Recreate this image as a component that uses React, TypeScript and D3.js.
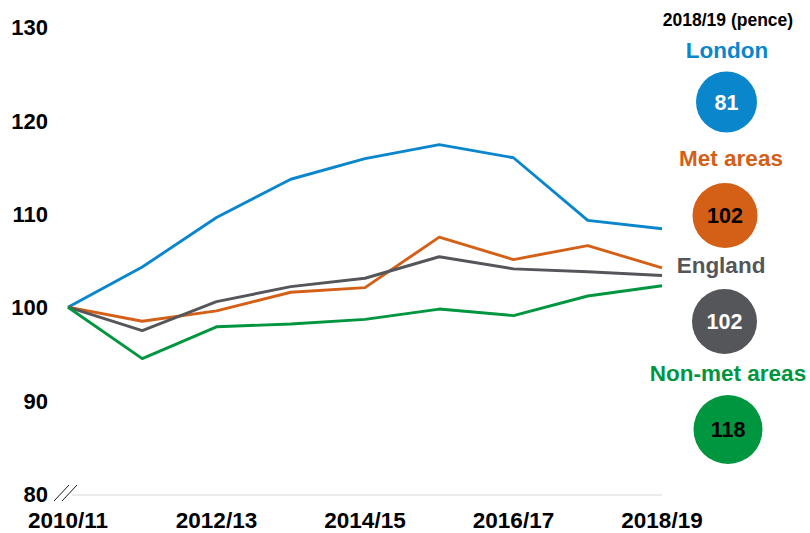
import React from "react";
import * as d3 from "d3";

const years = ["2010/11","2011/12","2012/13","2013/14","2014/15","2015/16","2016/17","2017/18","2018/19"];
const xTickLabels = ["2010/11","2012/13","2014/15","2016/17","2018/19"];
const yTicks = [80, 90, 100, 110, 120, 130];

const london = [100, 104.3, 109.6, 113.7, 115.9, 117.4, 116.0, 109.3, 108.4];
const metAreas = [100, 98.5, 99.6, 101.6, 102.1, 107.5, 105.1, 106.6, 104.2];
const england = [100, 97.5, 100.6, 102.2, 103.1, 105.4, 104.1, 103.8, 103.4];
const nonMet = [100, 94.5, 97.9, 98.2, 98.7, 99.8, 99.1, 101.2, 102.3];

const seriesNames = ["London", "Met areas", "England", "Non-met areas"];
const seriesPence = [81, 102, 102, 118];
const seriesColors = ["#0a86cc", "#d45f17", "#55565a", "#00963f"];
const seriesTextColors = ["#ffffff", "#000000", "#ffffff", "#000000"];

export default function App() {
  const W = 810, H = 533;
  const x = d3.scalePoint<string>().domain(years).range([68, 662]);
  const y = d3.scaleLinear().domain([80, 130]).range([494, 27]);
  const line = d3.line<number>().x((_, i) => x(years[i]) as number).y(d => y(d));
  const data = [london, metAreas, england, nonMet];
  const font = "'Liberation Sans', Arial, sans-serif";

  const legendLabelY = [50, 158, 265, 373];
  const legendLabelX = [727, 731, 721, 728];
  const legendCircle = [
    { cx: 726.5, cy: 102, r: 30.5 },
    { cx: 725, cy: 215.5, r: 32.5 },
    { cx: 724.5, cy: 321.5, r: 32.5 },
    { cx: 728, cy: 429.5, r: 34.5 },
  ];

  return (
    <svg width={W} height={H} style={{ position: "absolute", left: 0, top: 0, background: "#fff" }} fontFamily={font}>
      <line x1={72} x2={662} y1={y(80) + 1} y2={y(80) + 1} stroke="#e4e4e4" strokeWidth={1.5} />
      <line x1={54} x2={69} y1={y(80) + 7} y2={y(80) - 9} stroke="#000" strokeWidth={0.9} />
      <line x1={62} x2={77} y1={y(80) + 7} y2={y(80) - 9} stroke="#000" strokeWidth={0.9} />
      {yTicks.map(t => (
        <text key={t} x={48} y={y(t)} dy="0.37em" textAnchor="end" fontSize={22} fontWeight="bold" fill="#000">{t}</text>
      ))}
      {xTickLabels.map(t => (
        <text key={t} x={x(t) as number} y={528} textAnchor="middle" fontSize={22.5} fontWeight="bold" fill="#000">{t}</text>
      ))}
      {data.map((d, i) => (
        <path key={i} d={line(d) || ""} fill="none" stroke={seriesColors[i]} strokeWidth={2.9} strokeLinejoin="round" />
      ))}
      <text x={728} y={26} textAnchor="middle" fontSize={17.5} fontWeight="bold" fill="#000">2018/19 (pence)</text>
      {seriesNames.map((n, i) => (
        <g key={n}>
          <text x={legendLabelX[i]} y={legendLabelY[i]} dy="0.36em" textAnchor="middle" fontSize={22.5} fontWeight="bold" fill={seriesColors[i]}>{n}</text>
          <circle cx={legendCircle[i].cx} cy={legendCircle[i].cy} r={legendCircle[i].r} fill={seriesColors[i]} />
          <text x={legendCircle[i].cx} y={legendCircle[i].cy} dy="0.36em" textAnchor="middle" fontSize={21.5} fontWeight="bold" fill={seriesTextColors[i]}>{seriesPence[i]}</text>
        </g>
      ))}
    </svg>
  );
}
